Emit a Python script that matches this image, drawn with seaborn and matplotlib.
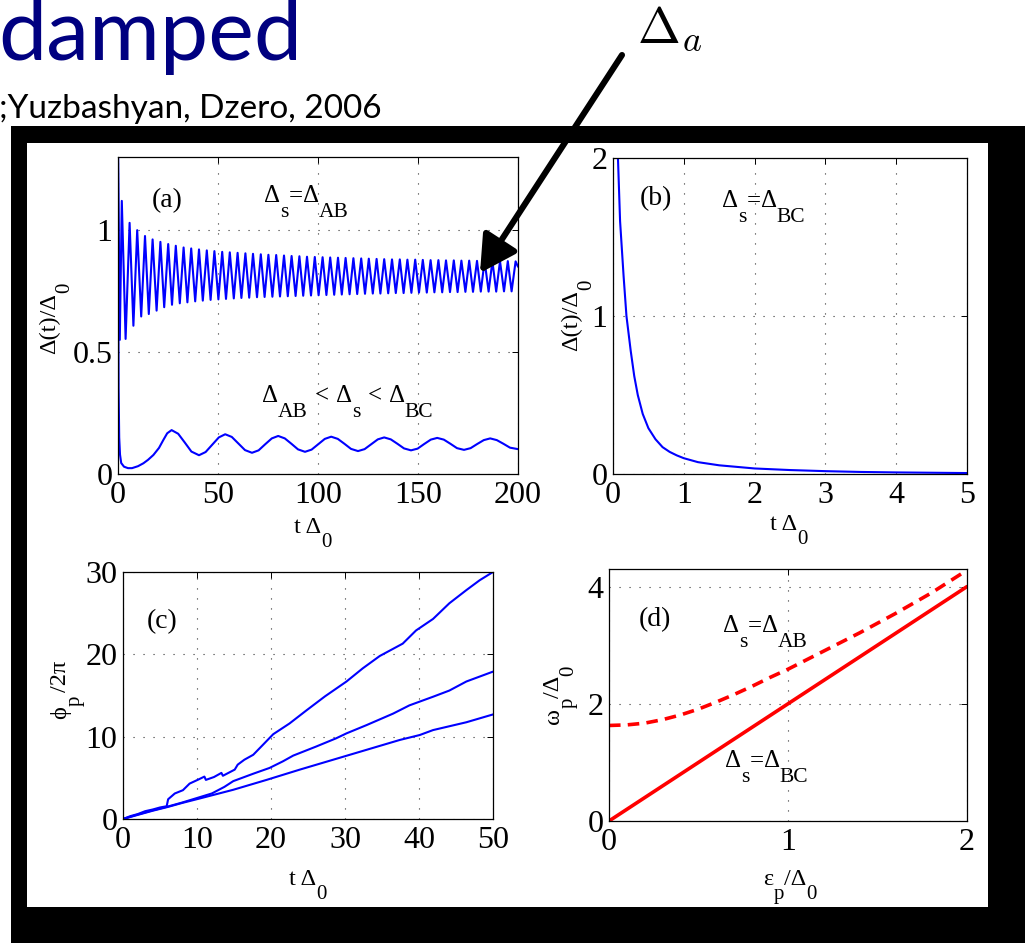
import numpy as np
import matplotlib
matplotlib.use("Agg")
import matplotlib.pyplot as plt
from matplotlib.patches import Rectangle, FancyArrowPatch
import seaborn as sns

# ---------------- data ----------------
# (a) Delta_s = Delta_AB : extrema of the fast oscillation
ab_start_t = [0.0, 0.9]
ab_start_v = [1.35, 0.55]
ab_peak_t = [1.9, 5.8, 9.6, 13.5, 17.3, 21.2, 25.1, 28.9, 32.8, 36.6, 40.5, 44.4, 48.2,
             52.1, 55.9, 59.8, 63.7, 67.5, 71.4, 75.2, 79.1, 83.0, 86.8, 90.7, 94.5, 98.4,
             102.3, 106.1, 110.0, 113.8, 117.7, 121.6, 125.4, 129.3, 133.1, 137.0, 140.9,
             144.7, 148.6, 152.4, 156.3, 160.2, 164.0, 167.9, 171.7, 175.6, 179.5, 183.3,
             187.2, 191.0, 194.9, 198.8]
ab_peak_v = [1.12, 1.03, 1.0, 0.976, 0.962, 0.952, 0.943, 0.936, 0.929, 0.925, 0.921,
             0.917, 0.914, 0.911, 0.909, 0.907, 0.905, 0.903, 0.901, 0.899, 0.898, 0.896,
             0.894, 0.893, 0.891, 0.890, 0.889, 0.888, 0.887, 0.886, 0.885, 0.884, 0.883,
             0.882, 0.881, 0.880, 0.880, 0.879, 0.879, 0.878, 0.877, 0.877, 0.876, 0.876,
             0.875, 0.875, 0.874, 0.874, 0.873, 0.873, 0.873, 0.872]
ab_trough_t = [3.8, 7.7, 11.6, 15.4, 19.3, 23.1, 27.0, 30.9, 34.7, 38.6, 42.4, 46.3, 50.2,
               54.0, 57.9, 61.7, 65.6, 69.5, 73.3, 77.2, 81.0, 84.9, 88.8, 92.6, 96.5,
               100.3, 104.2, 108.1, 111.9, 115.8, 119.6, 123.5, 127.4, 131.2, 135.1, 138.9,
               142.8, 146.7, 150.5, 154.4, 158.2, 162.1, 166.0, 169.8, 173.7, 177.5, 181.4,
               185.3, 189.1, 193.0, 196.8]
ab_trough_v = [0.554, 0.608, 0.646, 0.656, 0.670, 0.684, 0.694, 0.700, 0.704, 0.708, 0.711,
               0.714, 0.716, 0.718, 0.720, 0.722, 0.723, 0.725, 0.726, 0.727, 0.728, 0.729,
               0.730, 0.731, 0.732, 0.733, 0.734, 0.735, 0.736, 0.737, 0.738, 0.739, 0.740,
               0.740, 0.741, 0.742, 0.742, 0.743, 0.744, 0.744, 0.745, 0.745, 0.746, 0.746,
               0.747, 0.747, 0.748, 0.748, 0.748, 0.749, 0.749]
ab_end_t = [200.0]
ab_end_v = [0.85]

# (a) Delta_AB < Delta_s < Delta_BC : slow oscillation
mid_t = [0.0, 0.3, 0.6, 1.0, 1.6, 3.0, 5.0, 7.0, 10.0, 12.7, 15.0, 17.7, 20.5, 22.7, 24.6,
         26.8, 30.1, 33.4, 36.7, 40.5, 43.8, 47.1, 50.4, 53.6, 56.9, 60.2, 63.5, 67.0,
         70.3, 73.6, 76.9, 80.1, 83.4, 86.7, 90.0, 93.5, 96.8, 100.1, 103.4, 106.6, 109.9,
         113.2, 116.5, 120.0, 123.3, 126.6, 129.9, 133.1, 136.4, 139.7, 143.0, 146.5,
         149.8, 153.1, 156.4, 159.6, 162.9, 166.2, 169.5, 173.0, 176.3, 179.6, 182.9,
         186.1, 189.4, 192.7, 196.0, 200.0]
mid_v = [1.35, 0.35, 0.15, 0.08, 0.045, 0.030, 0.024, 0.024, 0.032, 0.044, 0.058, 0.078,
         0.107, 0.140, 0.167, 0.180, 0.165, 0.129, 0.092, 0.077, 0.090, 0.120, 0.150, 0.163,
         0.152, 0.125, 0.098, 0.087, 0.097, 0.122, 0.146, 0.156, 0.146, 0.124, 0.101,
         0.091, 0.100, 0.122, 0.144, 0.153, 0.144, 0.124, 0.103, 0.094, 0.102, 0.122,
         0.142, 0.150, 0.142, 0.124, 0.105, 0.097, 0.104, 0.123, 0.141, 0.148, 0.141,
         0.124, 0.106, 0.099, 0.106, 0.123, 0.139, 0.146, 0.139, 0.124, 0.108, 0.102]

# (b) Delta_s = Delta_BC : monotonic decay
bc_t = [0.07, 0.1, 0.15, 0.19, 0.25, 0.3, 0.35, 0.42, 0.5, 0.6, 0.7, 0.8, 0.9, 1.0, 1.2,
        1.5, 2.0, 2.5, 3.0, 3.5, 4.0, 4.5, 5.0]
bc_v = [2.0, 1.6, 1.25, 1.0, 0.78, 0.62, 0.5, 0.38, 0.29, 0.22, 0.17, 0.14, 0.118, 0.1,
        0.075, 0.055, 0.035, 0.025, 0.018, 0.013, 0.010, 0.008, 0.006]

# (c) phase phi_p / 2pi for three runs
c1_t = [0, 1, 2, 3, 4, 5, 5.9, 6.1, 7.0, 8.1, 9.0, 10.2, 11.0, 11.2, 12.3, 13.3, 13.5,
        15.1, 15.5, 16.4, 17.6, 18.9, 20.3, 22.5, 24.8, 27.3, 30.2, 32.4, 34.7, 37.8,
        39.6, 41.9, 44.1, 46.4, 48.2, 50]
c1_v = [0, 0.35, 0.6, 0.95, 1.15, 1.4, 1.55, 2.4, 3.1, 3.5, 4.3, 4.8, 5.15, 4.75, 5.1,
        5.6, 5.25, 6.0, 6.6, 7.2, 7.8, 9.0, 10.3, 11.6, 13.2, 14.9, 16.7, 18.3, 19.8,
        21.3, 22.9, 24.3, 26.2, 27.8, 29.0, 30.0]
c2_t = [0, 2, 4, 6, 8, 10, 12, 13.7, 14.9, 17.6, 19.8, 21.6, 23, 26.1, 28.8, 30.2, 32.9,
        36.5, 38.7, 41.9, 44.1, 46.4, 50]
c2_v = [0, 0.55, 1.05, 1.5, 2.0, 2.55, 3.1, 3.9, 4.6, 5.5, 6.2, 7.0, 7.7, 8.8, 9.8, 10.4,
        11.4, 12.8, 13.8, 14.85, 15.6, 16.7, 17.9]
c3_t = [0, 2, 4, 6, 8, 10.4, 14.9, 19.4, 23.9, 28.4, 32.9, 37.4, 40.1, 41.9, 46.4, 50]
c3_v = [0, 0.5, 1.0, 1.45, 1.95, 2.5, 3.55, 4.75, 6.0, 7.2, 8.4, 9.6, 10.2, 10.8, 11.75,
        12.7]

# (d) omega_p / Delta_0 vs eps_p / Delta_0
d_bc_eps = [0.0, 0.5, 1.0, 1.5, 2.0]
d_bc_om = [0.0, 1.0, 2.0, 3.0, 4.0]
d_ab_eps = [0.0, 0.1, 0.2, 0.3, 0.4, 0.5, 0.6, 0.7, 0.8, 0.9, 1.0, 1.2, 1.4, 1.6, 1.8, 2.0]
d_ab_om = [1.63, 1.64, 1.67, 1.73, 1.81, 1.91, 2.03, 2.16, 2.30, 2.45, 2.59, 2.90, 3.21,
           3.54, 3.89, 4.28]

# tick positions / labels
a_xticks = [0, 50, 100, 150, 200]
a_yticks = [0, 0.5, 1]
a_yticklabels = ["0", "0.5", "1"]
b_xticks = [0, 1, 2, 3, 4, 5]
b_yticks = [0, 1, 2]
c_xticks = [0, 10, 20, 30, 40, 50]
c_yticks = [0, 10, 20, 30]
d_xticks = [0, 1, 2]
d_yticks = [0, 2, 4]

# ---------------- style ----------------
SERIF = ["Liberation Serif", "DejaVu Serif"]
sns.set_style("white")
plt.rcParams["font.family"] = SERIF
plt.rcParams["text.color"] = "black"
plt.rcParams["mathtext.fontset"] = "custom"
plt.rcParams["mathtext.rm"] = "Liberation Serif"
plt.rcParams["mathtext.it"] = "Liberation Serif:italic"
plt.rcParams["axes.edgecolor"] = "black"
plt.rcParams["axes.linewidth"] = 0.9

W, H = 1025, 943
fig = plt.figure(figsize=(W / 100, H / 100), dpi=100, facecolor="white")
renderer = fig.canvas.get_renderer()


def box(left, top, right, bottom):
    return [left / W, 1 - bottom / H, (right - left) / W, (bottom - top) / H]


def fig_xy(px, py):
    return px / W, 1 - py / H


# Pieces of a label written like TeX: (text, fontsize, drop_px) or (None, gap_px)
def tex_text(x, y, pieces, align="left", rotation=0):
    items = []
    for p in pieces:
        if p[0] is None:
            items.append((None, p[1], 0))
            continue
        s, size, drop = p
        t = fig.text(0, 0, s, fontsize=size, ha="left", va="baseline", family=SERIF,
                     rotation=rotation, rotation_mode="anchor", color="black")
        ext = t.get_window_extent(renderer)
        length = ext.width if rotation == 0 else ext.height
        items.append((t, length, drop))
    total = sum(it[1] for it in items)
    if rotation == 0:
        pos = x - total / 2 if align == "center" else x
        for t, length, drop in items:
            if t is not None:
                t.set_position(fig_xy(pos, y + drop))
            pos += length
    else:
        pos = y + total / 2 if align == "center" else y
        for t, length, drop in items:
            if t is not None:
                t.set_position(fig_xy(x + drop, pos))
            pos -= length


# black frame with white panel area
fig.add_artist(Rectangle((11 / W, 0), 1 - 11 / W, 1 - 126 / H, transform=fig.transFigure,
                         facecolor="black", edgecolor="none", zorder=-5))
fig.add_artist(Rectangle((27 / W, 36 / H), 961 / W, 764 / H, transform=fig.transFigure,
                         facecolor="white", edgecolor="none", zorder=-4))

BLUE = "#0000ff"
RED = "#ff0000"
TICK_FS = 23
LM, LS, LD = 17.5, 15, 14      # axis labels: main size, subscript size, drop (px)
AM, AS, AD = 18, 15.5, 15      # annotations


def style_axes(ax, xticks, yticks, xlim, ylim, ylabels=None):
    ax.set_xlim(*xlim)
    ax.set_ylim(*ylim)
    ax.set_xticks(xticks)
    ax.set_yticks(yticks)
    ax.set_xticklabels([str(v) for v in xticks], family=SERIF, fontsize=TICK_FS,
                       color="black")
    ax.set_yticklabels(ylabels if ylabels is not None else [str(v) for v in yticks],
                       family=SERIF, fontsize=TICK_FS, color="black")
    ax.grid(True, color="#333333", linestyle=(0, (1, 8)), linewidth=0.8)
    ax.tick_params(direction="in", length=4, width=0.7, top=True, right=True,
                   pad=4, colors="black")
    ax.tick_params(axis="x", pad=5)
    ax.set_xlabel("")
    ax.set_ylabel("")
    for s in ax.spines.values():
        s.set_visible(True)
        s.set_color("black")
        s.set_linewidth(0.9)
    ax.set_facecolor("white")


def panel_tag(ax, x, y, s):
    ax.text(x, y, s, transform=ax.transAxes, fontsize=20, ha="center", va="center",
            family=SERIF, color="black")


def delta_eq(sub_a, sub_b):
    return [("Δ", AM, 0), (sub_a, AS, AD), ("=", AM, 0), ("Δ", AM, 0), (sub_b, AS, AD)]


def t_delta0():
    return [("t Δ", LM, 0), ("0", LS, LD)]


# ---- (a) ----
ax_a = fig.add_axes(box(118, 157, 518, 474))
ab_t = np.concatenate([ab_start_t, ab_peak_t, ab_trough_t, ab_end_t])
ab_v = np.concatenate([ab_start_v, ab_peak_v, ab_trough_v, ab_end_v])
order = np.argsort(ab_t)
sns.lineplot(x=ab_t[order], y=ab_v[order], ax=ax_a, color=BLUE, linewidth=1.5,
             sort=False, estimator=None)
sns.lineplot(x=mid_t, y=mid_v, ax=ax_a, color=BLUE, linewidth=1.5, sort=False,
             estimator=None)
style_axes(ax_a, a_xticks, a_yticks, (0, 200), (0, 1.3), a_yticklabels)
panel_tag(ax_a, 0.123, 0.864, "(a)")
tex_text(264, 202, delta_eq("s", "AB"))
tex_text(262, 402, [("Δ", AM, 0), ("AB", AS, AD), (None, 7), ("<", AM, 0), (None, 7),
                    ("Δ", AM, 0), ("s", AS, AD), (None, 7), ("<", AM, 0), (None, 7),
                    ("Δ", AM, 0), ("BC", AS, AD)])
tex_text(313, 533, t_delta0(), align="center")
tex_text(55, 318, [("Δ(t)/Δ", LM, 0), ("0", LS, LD)], align="center", rotation=90)

# ---- (b) ----
ax_b = fig.add_axes(box(613, 158, 967, 474))
sns.lineplot(x=bc_t, y=bc_v, ax=ax_b, color=BLUE, linewidth=1.5, sort=False,
             estimator=None)
style_axes(ax_b, b_xticks, b_yticks, (0, 5), (0, 2))
panel_tag(ax_b, 0.122, 0.87, "(b)")
tex_text(722, 207, delta_eq("s", "BC"))
tex_text(789, 530, t_delta0(), align="center")
tex_text(577, 315, [("Δ(t)/Δ", LM, 0), ("0", LS, LD)], align="center", rotation=90)

# ---- (c) ----
ax_c = fig.add_axes(box(123, 572, 493, 819))
for tt, vv in ((c1_t, c1_v), (c2_t, c2_v), (c3_t, c3_v)):
    sns.lineplot(x=tt, y=vv, ax=ax_c, color=BLUE, linewidth=1.5, sort=False,
                 estimator=None)
style_axes(ax_c, c_xticks, c_yticks, (0, 50), (0, 30))
panel_tag(ax_c, 0.105, 0.798, "(c)")
tex_text(308, 885, t_delta0(), align="center")
tex_text(66, 690, [("\u03d5", LM, 0), ("p", LS, LD), (None, 4), ("/2π", LM, 0)],
         align="center", rotation=90)

# ---- (d) ----
ax_d = fig.add_axes(box(609, 569, 967, 821))
sns.lineplot(x=d_ab_eps, y=d_ab_om, ax=ax_d, color=RED, linewidth=2.6, sort=False,
             estimator=None, linestyle=(0, (3.2, 2.0)))
sns.lineplot(x=d_bc_eps, y=d_bc_om, ax=ax_d, color=RED, linewidth=2.6, sort=False,
             estimator=None)
style_axes(ax_d, d_xticks, d_yticks, (0, 2), (0, 4.3))
panel_tag(ax_d, 0.129, 0.798, "(d)")
tex_text(723, 632, delta_eq("s", "AB"))
tex_text(725, 767, delta_eq("s", "BC"))
tex_text(790, 885, [("ε", LM, 0), ("p", LS, LD), ("/Δ", LM, 0), ("0", LS, LD)],
         align="center")
tex_text(559, 695, [("ω", LM, 0), ("p", LS, LD), ("/Δ", LM, 0), ("0", LS, LD)],
         align="center", rotation=90)

# ---- slide header ----
fig.text(-2 / W, 1 - 60 / H, "damped", fontsize=62, color="#000080",
         family=["Lato", "DejaVu Sans"], ha="left", va="baseline")
fig.text(-1 / W, 1 - 118 / H, ";Yuzbashyan, Dzero, 2006", fontsize=24, color="black",
         family=["Lato", "DejaVu Sans"], ha="left", va="baseline")

# ---- arrow pointing at the oscillation ----
arrow = FancyArrowPatch((622 / W, 1 - 55 / H), (480 / W, 1 - 273 / H),
                        transform=fig.transFigure,
                        arrowstyle="-|>,head_length=1.0,head_width=0.55",
                        mutation_scale=22, linewidth=4.4, color="black",
                        shrinkA=0, shrinkB=0, zorder=10)
fig.add_artist(arrow)
fig.text(637 / W, 1 - 43 / H, r"$\Delta_{\mathit{a}}$", fontsize=37, color="black",
         math_fontfamily="cm", ha="left", va="baseline")

fig.savefig("out.png", dpi=100, facecolor="white")
